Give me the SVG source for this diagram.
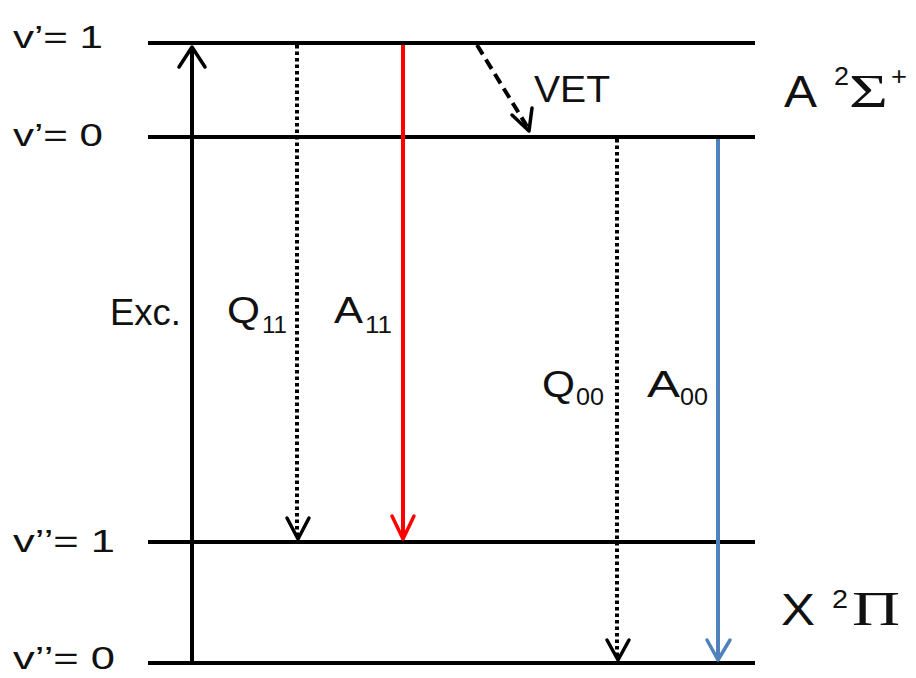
<svg xmlns="http://www.w3.org/2000/svg" width="916" height="678" viewBox="0 0 916 678">
<style>
.lvl{stroke:#000;stroke-width:4;fill:none}
.t{font-family:"Liberation Sans",Arial,sans-serif;fill:#111}
.lab{font-size:32px}
.tl{font-size:36px}
.big{font-size:45px}
.sub{font-size:23px}
.sup{font-size:26px}
.serif{font-family:"Liberation Serif","Times New Roman",serif;fill:#111}
.head{fill:none;stroke-width:3.5;stroke-linecap:round;stroke-linejoin:round}
</style>
<rect width="916" height="678" fill="#fff"/>
<g id="levels">
<line class="lvl" x1="148" y1="43" x2="755" y2="43"/>
<line class="lvl" x1="148" y1="137" x2="755" y2="137"/>
<line class="lvl" x1="148" y1="542" x2="755" y2="542"/>
<line class="lvl" x1="148" y1="663" x2="755" y2="663"/>
</g>
<g id="level-labels" class="t lab">
<text x="13" y="48" textLength="90" lengthAdjust="spacingAndGlyphs">v’= 1</text>
<text x="13" y="146" textLength="90" lengthAdjust="spacingAndGlyphs">v’= 0</text>
<text x="13" y="552" textLength="102" lengthAdjust="spacingAndGlyphs">v’’= 1</text>
<text x="13" y="669" textLength="102" lengthAdjust="spacingAndGlyphs">v’’= 0</text>
</g>
<g id="state-A">
<text class="t big" x="784" y="107" textLength="33" lengthAdjust="spacingAndGlyphs">A</text>
<text class="t sup" x="834" y="85" textLength="15" lengthAdjust="spacingAndGlyphs">2</text>
<text class="serif" x="849" y="107" font-size="46" textLength="39" lengthAdjust="spacingAndGlyphs">Σ</text>
<text class="t sup" x="891" y="85" textLength="16" lengthAdjust="spacingAndGlyphs">+</text>
</g>
<g id="state-X">
<text class="t big" x="781" y="625" textLength="34" lengthAdjust="spacingAndGlyphs">X</text>
<text class="t sup" x="832" y="608" textLength="16" lengthAdjust="spacingAndGlyphs">2</text>
<text class="serif" x="852" y="625" font-size="48" textLength="48" lengthAdjust="spacingAndGlyphs">Π</text>
</g>
<g id="connectors">
<g id="exc">
<line x1="192" y1="663" x2="192" y2="47" stroke="#000" stroke-width="4"/>
<polyline class="head" stroke="#000" points="179,67 192,47 205,67"/>
</g>
<g id="q11">
<line x1="297" y1="45" x2="297" y2="536" stroke="#000" stroke-width="4" stroke-dasharray="3.5,3"/>
<polyline class="head" stroke="#000" points="287,518 298,539 309,518"/>
</g>
<g id="a11">
<line x1="403" y1="45" x2="403" y2="538" stroke="#f00" stroke-width="4"/>
<polyline class="head" stroke="#f00" points="392,516 403,539 414,516"/>
</g>
<g id="vet">
<line x1="477" y1="45" x2="528" y2="128" stroke="#000" stroke-width="4" stroke-dasharray="11,6"/>
<polyline class="head" stroke="#000" points="512,115 529,131 532,108"/>
</g>
<g id="q00">
<line x1="617" y1="139" x2="617" y2="658" stroke="#000" stroke-width="4" stroke-dasharray="3.5,3"/>
<polyline class="head" stroke="#000" points="607,640 618,660 629,640"/>
</g>
<g id="a00">
<line x1="718" y1="139" x2="718" y2="658" stroke="#4f81bd" stroke-width="4"/>
<polyline class="head" stroke="#4f81bd" points="707,640 718,660 730,640"/>
</g>
</g>
<g id="transition-labels" class="t">
<text class="tl" x="110" y="325" textLength="71" lengthAdjust="spacingAndGlyphs">Exc.</text>
<text class="tl" x="227" y="323" textLength="33" lengthAdjust="spacingAndGlyphs">Q</text>
<text class="sub" x="262" y="333" textLength="25" lengthAdjust="spacingAndGlyphs">11</text>
<text class="tl" x="334" y="323" textLength="29" lengthAdjust="spacingAndGlyphs">A</text>
<text class="sub" x="365" y="333" textLength="27" lengthAdjust="spacingAndGlyphs">11</text>
<text class="tl" x="542" y="397" textLength="33" lengthAdjust="spacingAndGlyphs">Q</text>
<text class="sub" x="576" y="405" textLength="28" lengthAdjust="spacingAndGlyphs">00</text>
<text class="tl" x="647" y="397" textLength="33" lengthAdjust="spacingAndGlyphs">A</text>
<text class="sub" x="680" y="405" textLength="28" lengthAdjust="spacingAndGlyphs">00</text>
<text class="tl" x="534" y="102" font-size="41" textLength="76" lengthAdjust="spacingAndGlyphs">VET</text>
</g>
</svg>
